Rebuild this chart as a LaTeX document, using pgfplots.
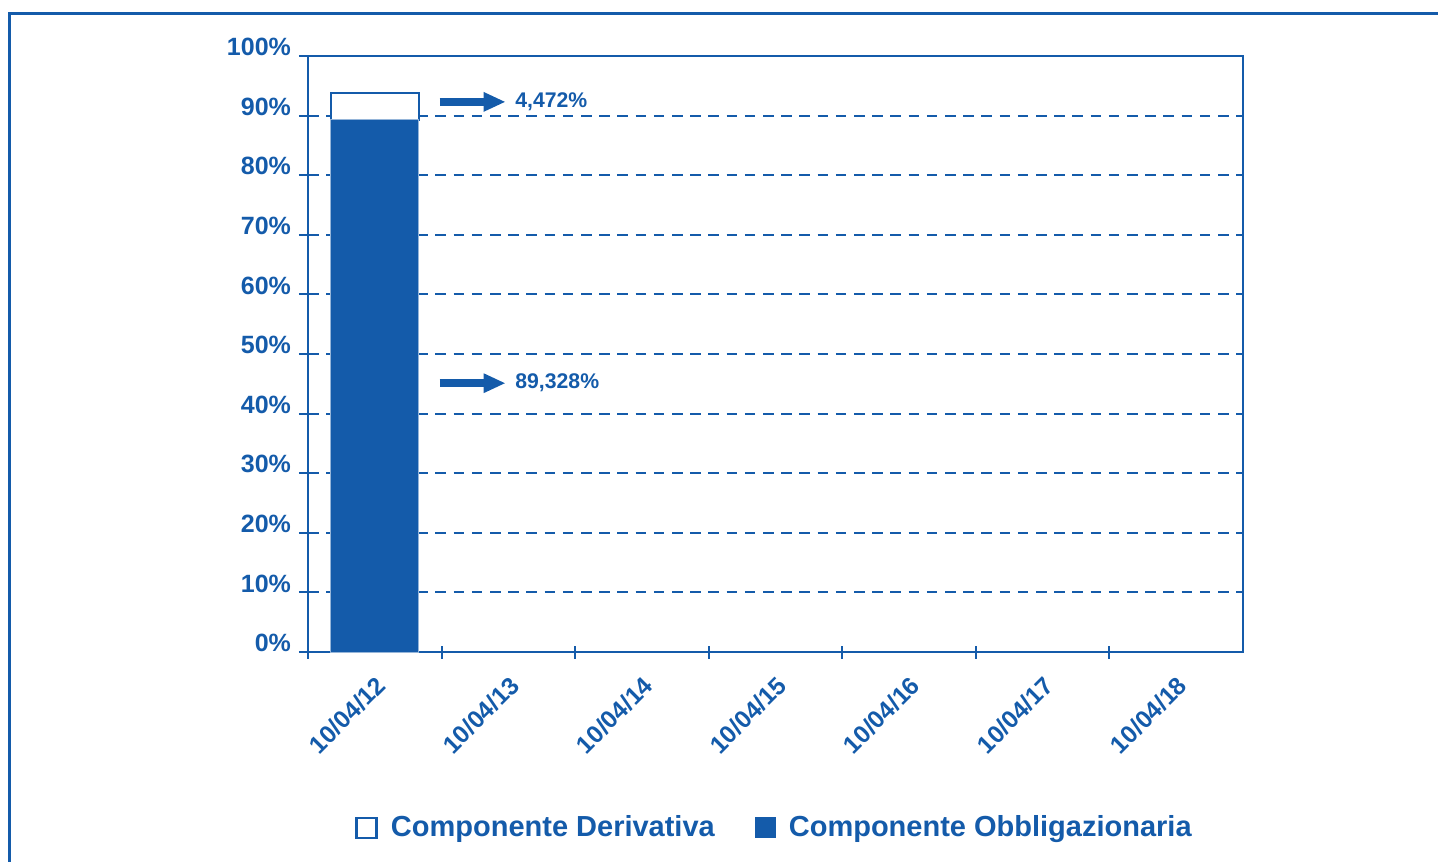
\documentclass[border=0pt]{standalone}
\usepackage{fontspec}
\setmainfont{Liberation Sans}
\usepackage{pgfplots}
\pgfplotsset{compat=1.18}
\usetikzlibrary{arrows.meta}
\definecolor{bl}{RGB}{20,91,170}

\begin{document}
\begin{tikzpicture}
% page: 1438x861 px at 0.5pt per px, axis box at (308,652)-(1243,56)
\path[use as bounding box] (-154pt,-104.5pt) rectangle (565pt,326pt);
\draw[bl, line width=1.5pt] (-149pt,-120pt) -- (-149pt,319pt) -- (580pt,319pt);
\begin{axis}[
    scale only axis,
    width=467.5pt, height=298pt,
    xmin=-0.5, xmax=6.5,
    ymin=0, ymax=100,
    ybar stacked, bar width=44pt,
    axis line style={bl, line width=1pt},
    xtick={0,...,6},
    xticklabels={10/04/12,10/04/13,10/04/14,10/04/15,10/04/16,10/04/17,10/04/18},
    major x tick style={draw=none},
    minor xtick={-0.5,0.5,...,5.5},
    minor x tick style={bl, line width=1pt},
    minor tick length=6.5pt,
    xtick align=center,
    ytick={0,10,...,100},
    yticklabels={0\%,10\%,20\%,30\%,40\%,50\%,60\%,70\%,80\%,90\%,100\%},
    ytick align=outside,
    major tick length=4.5pt,
    major y tick style={bl, line width=1pt},
    ytick pos=left, xtick pos=bottom,
    ymajorgrids,
    major grid style={bl, line width=1pt, dash pattern=on 5.3pt off 3.8pt},
    xticklabel style={rotate=45, anchor=east, text=bl,
        font=\bfseries\fontsize{12.3}{14}\selectfont, xshift=-3pt, yshift=-11pt},
    yticklabel style={text=bl, font=\bfseries\fontsize{12.5}{14}\selectfont,
        yshift=4.5pt, xshift=-0.5pt},
    legend style={at={(0.5,-0.295)}, anchor=center, draw=none,
        legend columns=2, text=bl,
        font=\bfseries\fontsize{14.5}{16}\selectfont,
        /tikz/every odd column/.append style={column sep=4.5pt},
        /tikz/every even column/.append style={column sep=18pt}},
    reverse legend,
    clip=false,
    ]
    % Componente Obbligazionaria
    \addplot[fill=bl, draw=bl!45!white, line width=0.5pt,
        legend image code/.code={\draw[fill=bl, draw=bl] (0pt,-5pt) rectangle (10pt,5pt);}]
        coordinates {(0,89.328)};
    \addlegendentry{Componente Obbligazionaria}
    % Componente Derivativa
    \addplot[fill=white, draw=bl, line width=1pt,
        legend image code/.code={\draw[fill=white, draw=bl, line width=1.3pt] (0.5pt,-5pt) rectangle (10.5pt,5pt);}]
        coordinates {(0,4.472)};
    \addlegendentry{Componente Derivativa}

    \draw[bl, line width=4pt, -{Triangle[length=11pt,width=9pt]}]
        (axis cs:0.485,92.3) -- (axis cs:0.98,92.3);
    \draw[bl, line width=4pt, -{Triangle[length=11pt,width=9pt]}]
        (axis cs:0.485,45.1) -- (axis cs:0.98,45.1);
    \node[anchor=west, text=bl, font=\bfseries\fontsize{10.6}{12}\selectfont]
        at (axis cs:1.0,92.3) {4,472\%};
    \node[anchor=west, text=bl, font=\bfseries\fontsize{10.6}{12}\selectfont]
        at (axis cs:1.0,45.1) {89,328\%};
\end{axis}
\end{tikzpicture}
\end{document}
